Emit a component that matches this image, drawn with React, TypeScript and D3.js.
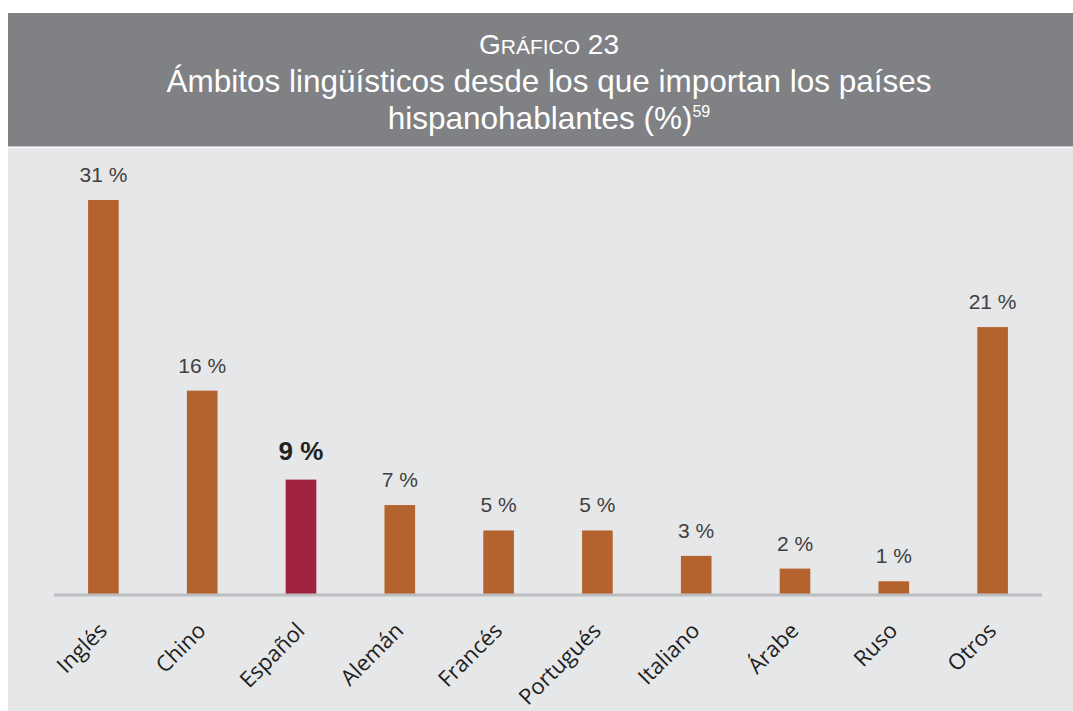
import React from "react";
import * as d3 from "d3";

// languages, left to right
const languages = [
  "Inglés",
  "Chino",
  "Español",
  "Alemán",
  "Francés",
  "Portugués",
  "Italiano",
  "Árabe",
  "Ruso",
  "Otros"
];
// share of imports (%)
const shares = [31, 16, 9, 7, 5, 5, 3, 2, 1, 21];
const highlighted = ["Español"];

const W = 1073;
const H = 711;

const App = () => {
  // ----- plot area
  const baseY = 594;
  const x = d3
    .scaleBand<string>()
    .domain(languages)
    .range([54, 1042])
    .paddingInner(0.69)
    .paddingOuter(0.345);

  const y = d3.scaleLinear().domain([0, 31]).range([baseY, 200]);

  const rows = languages.map((lang, i) => ({ lang, value: shares[i] }));

  const labelFont = "'Liberation Sans', Arial, Helvetica, sans-serif";
  const axisFont = "'Open Sans', 'Noto Sans', sans-serif";

  return (
    <svg
      width={W}
      height={H}
      style={{ position: "absolute", left: 0, top: 0, display: "block" }}
    >
      <rect x={0} y={0} width={W} height={H} fill="#ffffff" />
      {/* title box */}
      <rect x={8} y={13} width={W - 8} height={133.5} fill="#808184" />
      <g fill="#ffffff" fontFamily={labelFont} textAnchor="middle">
        <text x={549} y={54} fontSize={28}>
          <tspan>G</tspan>
          <tspan fontSize={21}>RÁFICO</tspan>
          <tspan> 23</tspan>
        </text>
        <text x={549} y={92} fontSize={31.5}>
          Ámbitos lingüísticos desde los que importan los países
        </text>
        <text x={549} y={129} fontSize={31.5}>
          hispanohablantes (%)
          <tspan fontSize={16} dy={-12}>
            59
          </tspan>
        </text>
      </g>

      {/* plot background */}
      <rect x={8} y={148} width={W - 8} height={H - 148} fill="#e6e7e9" />

      {/* bars */}
      {rows.map(d => (
        <rect
          key={d.lang}
          x={x(d.lang)}
          y={y(d.value)}
          width={x.bandwidth()}
          height={baseY - y(d.value)}
          fill={highlighted.includes(d.lang) ? "#a0213e" : "#b4632f"}
        />
      ))}

      {/* baseline */}
      <line
        x1={54}
        x2={1042}
        y1={baseY + 1}
        y2={baseY + 1}
        stroke="#bcbdc0"
        strokeWidth={3}
      />

      {/* value labels */}
      {rows.map(d => {
        const hi = highlighted.includes(d.lang);
        return (
          <text
            key={"v" + d.lang}
            x={(x(d.lang) as number) + x.bandwidth() / 2}
            y={y(d.value) - (hi ? 20 : 18)}
            textAnchor="middle"
            fontFamily={labelFont}
            fontSize={hi ? 26 : 21}
            fontWeight={hi ? "bold" : "normal"}
            fill={hi ? "#222222" : "#404040"}
          >
            {d.value} %
          </text>
        );
      })}

      {/* category labels */}
      {rows.map(d => {
        const cx = (x(d.lang) as number) + x.bandwidth() / 2;
        return (
          <text
            key={"c" + d.lang}
            transform={`translate(${cx + 5},${baseY + 38}) rotate(-45)`}
            textAnchor="end"
            fontFamily={axisFont}
            fontSize={22}
            fill="#1e1e1e"
          >
            {d.lang}
          </text>
        );
      })}
    </svg>
  );
};

export default App;
